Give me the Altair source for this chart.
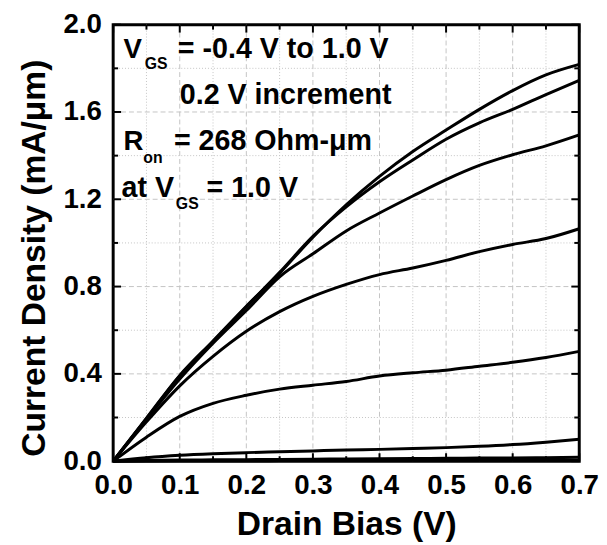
import altair as alt
import pandas as pd

# ---- data ----
VD = [0.0, 0.05, 0.10, 0.15, 0.20, 0.25, 0.30, 0.35, 0.40, 0.45, 0.50, 0.55, 0.60, 0.65, 0.70]
VGS_LEVELS = ["1.0", "0.8", "0.6", "0.4", "0.2", "0.0", "-0.2", "-0.4"]
ID_10 = [0, 0.197, 0.393, 0.551, 0.71, 0.861, 1.026, 1.175, 1.305, 1.419, 1.517, 1.612, 1.698, 1.77, 1.818]
ID_08 = [0, 0.195, 0.39, 0.548, 0.707, 0.865, 1.03, 1.165, 1.28, 1.38, 1.475, 1.55, 1.612, 1.68, 1.745]
ID_06 = [0, 0.192, 0.376, 0.54, 0.69, 0.845, 0.95, 1.055, 1.137, 1.215, 1.29, 1.355, 1.404, 1.445, 1.495]
ID_04 = [0, 0.18, 0.345, 0.48, 0.595, 0.685, 0.755, 0.81, 0.855, 0.885, 0.92, 0.96, 0.993, 1.02, 1.065]
ID_02 = [0, 0.11, 0.205, 0.265, 0.302, 0.33, 0.348, 0.365, 0.39, 0.405, 0.417, 0.435, 0.453, 0.475, 0.503]
ID_00 = [0, 0.016, 0.027, 0.034, 0.039, 0.043, 0.047, 0.051, 0.054, 0.058, 0.062, 0.068, 0.076, 0.087, 0.1]
ID_M02 = [0, 0.003, 0.005, 0.006, 0.007, 0.008, 0.009, 0.010, 0.011, 0.012, 0.013, 0.014, 0.015, 0.016, 0.018]
ID_M04 = [0, 0.001, 0.0015, 0.002, 0.002, 0.0025, 0.003, 0.003, 0.003, 0.0035, 0.0035, 0.004, 0.004, 0.004, 0.0045]
SERIES = [ID_10, ID_08, ID_06, ID_04, ID_02, ID_00, ID_M02, ID_M04]

X_MAJOR = [0.0, 0.1, 0.2, 0.3, 0.4, 0.5, 0.6, 0.7]
X_MINOR = [0.05, 0.15, 0.25, 0.35, 0.45, 0.55, 0.65]
Y_MAJOR = [0.0, 0.4, 0.8, 1.2, 1.6, 2.0]
Y_MINOR = [0.2, 0.6, 1.0, 1.4, 1.8]

rows = []
for lvl, ser in zip(VGS_LEVELS, SERIES):
    for v, i in zip(VD, ser):
        rows.append({"vd": v, "id": i, "vgs": lvl})
df = pd.DataFrame(rows)

W, H = 472, 442
PL, PT = 106.5, 13.5  # padding so plot sits at page (114.5, 21.5)
OX, OY = 114.5, 21.5
FONT = "Liberation Sans"

xscale = alt.Scale(domain=[0, 0.7], nice=False, zero=False)
yscale = alt.Scale(domain=[0, 2.0], nice=False, zero=False)

xaxis = alt.Axis(values=X_MAJOR, format=".1f", title="Drain Bias (V)", grid=False,
                 ticks=False, tickSize=0, domain=False, labelPadding=11, labelFlush=False,
                 labelOverlap=False, titleX=236, titleY=74.5, titleBaseline="alphabetic",
                 titleAnchor="middle")
yaxis = alt.Axis(values=Y_MAJOR, format=".1f", title="Current Density (mA/\u03bcm)", grid=False,
                 ticks=False, tickSize=0, domain=False, labelPadding=12, labelFlush=False,
                 labelOverlap=False, titleX=-70, titleY=236, titleBaseline="alphabetic",
                 titleAngle=270, titleAlign="center")

lines = alt.Chart(df).mark_line(color="black", strokeWidth=3, interpolate="monotone").encode(
    x=alt.X("vd:Q", scale=xscale, axis=xaxis),
    y=alt.Y("id:Q", scale=yscale, axis=yaxis),
    detail="vgs:N",
)

def vgrid(vals, dash):
    d = pd.DataFrame({"v": vals})
    return alt.Chart(d).mark_rule(color="#c4c4c4", strokeWidth=1, strokeDash=dash).encode(
        x=alt.X("v:Q", scale=xscale, axis=xaxis), y=alt.value(0), y2=alt.value(H))

def hgrid(vals, dash):
    d = pd.DataFrame({"v": vals})
    return alt.Chart(d).mark_rule(color="#c4c4c4", strokeWidth=1, strokeDash=dash).encode(
        y=alt.Y("v:Q", scale=yscale, axis=yaxis), x=alt.value(0), x2=alt.value(W))

def xticks(vals, ln):
    d = pd.DataFrame({"v": vals})
    b = alt.Chart(d).mark_rule(color="black", strokeWidth=2).encode(
        x=alt.X("v:Q", scale=xscale, axis=xaxis), y=alt.value(H), y2=alt.value(H - ln))
    t = alt.Chart(d).mark_rule(color="black", strokeWidth=2).encode(
        x=alt.X("v:Q", scale=xscale, axis=xaxis), y=alt.value(0), y2=alt.value(ln))
    return b + t

def yticks(vals, ln):
    d = pd.DataFrame({"v": vals})
    l = alt.Chart(d).mark_rule(color="black", strokeWidth=2).encode(
        y=alt.Y("v:Q", scale=yscale, axis=yaxis), x=alt.value(0), x2=alt.value(ln))
    r = alt.Chart(d).mark_rule(color="black", strokeWidth=2).encode(
        y=alt.Y("v:Q", scale=yscale, axis=yaxis), x=alt.value(W), x2=alt.value(W - ln))
    return l + r

def label(txt, px, py, size):
    return alt.Chart(pd.DataFrame({"t": [txt]})).mark_text(
        font=FONT, fontWeight="bold", fontSize=size, align="left", baseline="alphabetic",
        color="black").encode(text="t:N", x=alt.value(px - OX), y=alt.value(py - OY))

texts = [
    label("V", 125, 55, 28), label("GS", 146.5, 66.5, 16), label("= -0.4 V to 1.0 V", 180, 55, 29),
    label("0.2 V increment", 182, 102, 29),
    label("R", 125, 148.5, 28), label("on", 145, 161.5, 16), label("= 268 Ohm-\u03bcm", 176, 148.5, 29),
    label("at V", 123, 196.5, 29), label("GS", 178, 208, 16), label("= 1.0 V", 209, 196.5, 29),
]

chart = alt.layer(
    vgrid(X_MAJOR[1:-1], [5, 3]), vgrid(X_MINOR, [1, 2]),
    hgrid(Y_MAJOR[1:-1], [5, 3]), hgrid(Y_MINOR, [1, 2]),
    lines,
    xticks(X_MAJOR, 8), xticks(X_MINOR, 5), yticks(Y_MAJOR, 8), yticks(Y_MINOR, 5),
    *texts,
).properties(
    width=W, height=H,
    autosize=alt.AutoSizeParams(type="none"),
    padding={"left": PL, "top": PT, "right": 20, "bottom": 81},
).configure_view(
    stroke="black", strokeWidth=3
).configure_axis(
    labelFont=FONT, labelFontSize=28, labelFontWeight="bold", labelColor="black",
    titleFont=FONT, titleFontSize=34, titleFontWeight="bold", titleColor="black",
)

chart.save("out.html", embed_options={"renderer": "svg", "actions": False})
